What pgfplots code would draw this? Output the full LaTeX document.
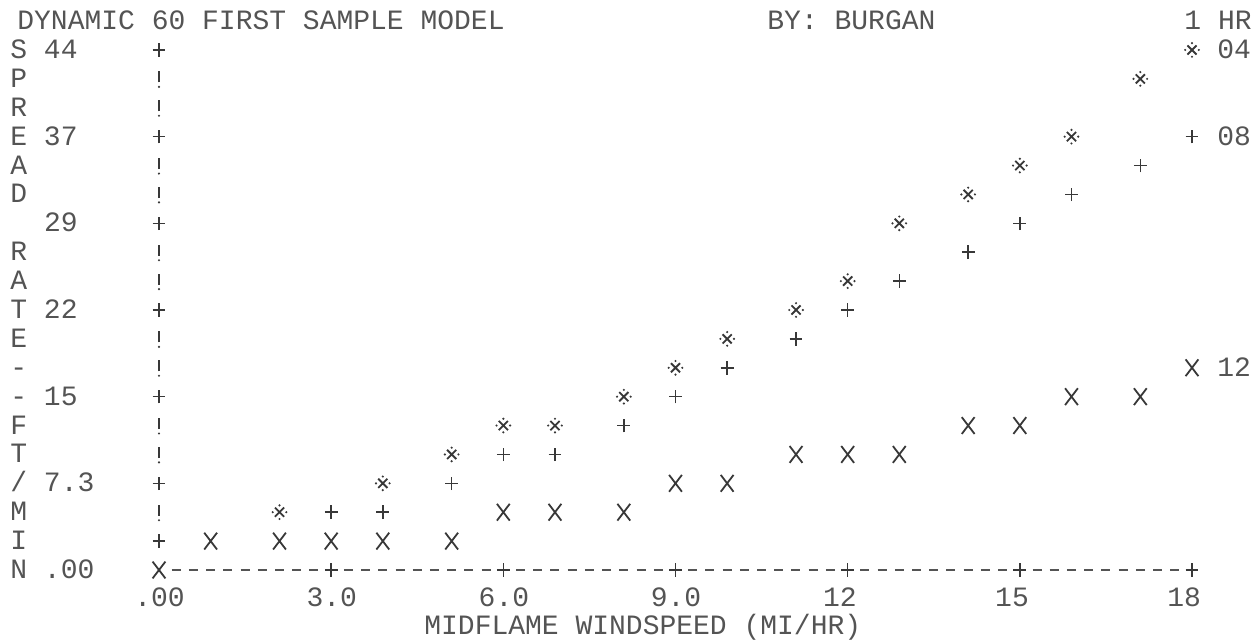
\documentclass[border=0pt]{standalone}
\usepackage{fontspec}
\setmainfont{Liberation Mono}
\newfontfamily\mono{Liberation Mono}
\usepackage{pgfplots}
\pgfplotsset{compat=1.18}
\definecolor{ink}{gray}{0.33}
\definecolor{markink}{gray}{0.22}
\tikzset{txt/.style={font={\mono\fontsize{14pt}{16pt}\selectfont}, text=ink, inner sep=0pt, anchor=base west}}
\pgfdeclareplotmark{pX}{%
  \pgfpathmoveto{\pgfqpoint{-3.2pt}{-4.2pt}}\pgfpathlineto{\pgfqpoint{3.2pt}{4.2pt}}%
  \pgfpathmoveto{\pgfqpoint{-3.2pt}{4.2pt}}\pgfpathlineto{\pgfqpoint{3.2pt}{-4.2pt}}%
  \pgfusepathqstroke}
\pgfdeclareplotmark{pPlus}{%
  \pgfpathmoveto{\pgfqpoint{-3.2pt}{0pt}}\pgfpathlineto{\pgfqpoint{3.2pt}{0pt}}%
  \pgfpathmoveto{\pgfqpoint{0pt}{-3.4pt}}\pgfpathlineto{\pgfqpoint{0pt}{3.4pt}}%
  \pgfusepathqstroke}
\pgfdeclareplotmark{pStar}{%
  \pgfpathmoveto{\pgfqpoint{-2.3pt}{-2.3pt}}\pgfpathlineto{\pgfqpoint{2.3pt}{2.3pt}}%
  \pgfpathmoveto{\pgfqpoint{-2.3pt}{2.3pt}}\pgfpathlineto{\pgfqpoint{2.3pt}{-2.3pt}}%
  \pgfusepathqstroke
  \pgfpathcircle{\pgfqpoint{3.4pt}{0pt}}{0.6pt}%
  \pgfpathcircle{\pgfqpoint{-3.4pt}{0pt}}{0.6pt}%
  \pgfpathcircle{\pgfqpoint{0pt}{3.4pt}}{0.6pt}%
  \pgfpathcircle{\pgfqpoint{0pt}{-3.4pt}}{0.6pt}%
  \pgfusepathqfill}
\pgfdeclareplotmark{pBang}{%
  \pgfpathmoveto{\pgfqpoint{0pt}{-1.8pt}}\pgfpathlineto{\pgfqpoint{0pt}{3.8pt}}%
  \pgfusepathqstroke
  \pgfpathcircle{\pgfqpoint{0pt}{-4pt}}{0.6pt}%
  \pgfusepathqfill}
\begin{document}
\begin{tikzpicture}
\useasboundingbox (-79.5pt,-35pt) rectangle (547.5pt,285pt);
\begin{axis}[at={(0pt,0pt)}, anchor=south west, scale only axis,
  width=516.5pt, height=260pt,
  xmin=0, xmax=18, ymin=0, ymax=44,
  axis line style={draw=none}, ticks=none, clip=false]

% x axis line (printed dashes)
\draw[ink, line width=0.6pt, dash pattern=on 4.5pt off 4.108pt]
  (axis cs:0.2216,0) -- (axis cs:17.78,0);

% axis decorations: y-axis "+" ticks and "!" fillers, x-axis "+" ticks
\addplot[only marks, mark=pPlus, markink, mark options={line width=0.8pt}] coordinates {
  (0,7.3333)(0,14.6667)(0,22)(0,29.3333)(0,36.6667)(0,44)
  (3,0)(6,0)(9,0)(12,0)(15,0)(18,0)};
\addplot[only marks, mark=pBang, markink, mark options={line width=1pt}] coordinates {
  (0,4.8889)(0,9.7778)(0,12.2222)(0,17.1111)(0,19.5556)(0,24.4444)
  (0,26.8889)(0,31.7778)(0,34.2222)(0,39.1111)(0,41.5556)};

% series 04 (*)
\addplot[only marks, mark=pStar, markink, mark options={line width=0.9pt}] coordinates {
  (2.1,4.8889)(3.9,7.3333)(5.1,9.7778)(6.0,12.2222)(6.9,12.2222)(8.1,14.6667)
  (9.0,17.1111)(9.9,19.5556)(11.1,22.0)(12,24.4444)(12.9,29.3333)(14.1,31.7778)
  (15,34.2222)(15.9,36.6667)(17.1,41.5556)(18,44)};
% series 08 (+)
\addplot[only marks, mark=pPlus, markink, mark options={line width=0.8pt}] coordinates {
  (0,2.4444)(3.0,4.8889)(3.9,4.8889)(5.1,7.3333)(6.0,9.7778)(6.9,9.7778)
  (8.1,12.2222)(9.0,14.6667)(9.9,17.1111)(11.1,19.5556)(12,22.0)(12.9,24.4444)
  (14.1,26.8889)(15,29.3333)(15.9,31.7778)(17.1,34.2222)(18,36.6667)};
% series 12 (X)
\addplot[only marks, mark=pX, markink, mark options={line width=0.9pt}] coordinates {
  (0,0)(0.9,2.4444)(2.1,2.4444)(3.0,2.4444)(3.9,2.4444)(5.1,2.4444)
  (6.0,4.8889)(6.9,4.8889)(8.1,4.8889)(9.0,7.3333)(9.9,7.3333)
  (11.1,9.7778)(12,9.7778)(12.9,9.7778)(14.1,12.2222)(15,12.2222)
  (15.9,14.6667)(17.1,14.6667)(18,17.1111)};

% series labels
\node[txt, xshift=12.5pt, yshift=-4.25pt] at (axis cs:18,44) {04};
\node[txt, xshift=12.5pt, yshift=-4.25pt] at (axis cs:18,36.6667) {08};
\node[txt, xshift=12.5pt, yshift=-4.25pt] at (axis cs:18,17.1111) {12};

% title line
\node[txt] at (axis cs:0,0) [xshift=-71pt, yshift=270pt] {DYNAMIC 60 FIRST SAMPLE MODEL};
\node[txt] at (axis cs:0,0) [xshift=304pt, yshift=270pt] {BY: BURGAN};
\node[txt] at (axis cs:0,0) [xshift=512.5pt, yshift=270pt] {1 HR};

% y labels (one per printed row)
\node[txt, xshift=-74.5pt, yshift=-4.25pt] at (axis cs:0,44) {S~44};
\node[txt, xshift=-74.5pt, yshift=-4.25pt] at (axis cs:0,41.5556) {P};
\node[txt, xshift=-74.5pt, yshift=-4.25pt] at (axis cs:0,39.1111) {R};
\node[txt, xshift=-74.5pt, yshift=-4.25pt] at (axis cs:0,36.6667) {E~37};
\node[txt, xshift=-74.5pt, yshift=-4.25pt] at (axis cs:0,34.2222) {A};
\node[txt, xshift=-74.5pt, yshift=-4.25pt] at (axis cs:0,31.7778) {D};
\node[txt, xshift=-74.5pt, yshift=-4.25pt] at (axis cs:0,29.3333) {~~29};
\node[txt, xshift=-74.5pt, yshift=-4.25pt] at (axis cs:0,26.8889) {R};
\node[txt, xshift=-74.5pt, yshift=-4.25pt] at (axis cs:0,24.4444) {A};
\node[txt, xshift=-74.5pt, yshift=-4.25pt] at (axis cs:0,22) {T~22};
\node[txt, xshift=-74.5pt, yshift=-4.25pt] at (axis cs:0,19.5556) {E};
\node[txt, xshift=-74.5pt, yshift=-4.25pt] at (axis cs:0,17.1111) {-};
\node[txt, xshift=-74.5pt, yshift=-4.25pt] at (axis cs:0,14.6667) {-~15};
\node[txt, xshift=-74.5pt, yshift=-4.25pt] at (axis cs:0,12.2222) {F};
\node[txt, xshift=-74.5pt, yshift=-4.25pt] at (axis cs:0,9.7778) {T};
\node[txt, xshift=-74.5pt, yshift=-4.25pt] at (axis cs:0,7.3333) {/~7.3};
\node[txt, xshift=-74.5pt, yshift=-4.25pt] at (axis cs:0,4.8889) {M};
\node[txt, xshift=-74.5pt, yshift=-4.25pt] at (axis cs:0,2.4444) {I};
\node[txt, xshift=-74.5pt, yshift=-4.25pt] at (axis cs:0,0) {N~.00};

% x tick labels
\node[txt, xshift=-12.5pt, yshift=-18.5pt] at (axis cs:0,0) {.00};
\node[txt, xshift=-12.5pt, yshift=-18.5pt] at (axis cs:3,0) {3.0};
\node[txt, xshift=-12.5pt, yshift=-18.5pt] at (axis cs:6,0) {6.0};
\node[txt, xshift=-12.5pt, yshift=-18.5pt] at (axis cs:9,0) {9.0};
\node[txt, xshift=-12.5pt, yshift=-18.5pt] at (axis cs:12,0) {12};
\node[txt, xshift=-12.5pt, yshift=-18.5pt] at (axis cs:15,0) {15};
\node[txt, xshift=-12.5pt, yshift=-18.5pt] at (axis cs:18,0) {18};

% x axis title
\node[txt, xshift=132.5pt, yshift=-32.5pt] at (axis cs:0,0) {MIDFLAME WINDSPEED (MI/HR)};
\end{axis}
\end{tikzpicture}
\end{document}
